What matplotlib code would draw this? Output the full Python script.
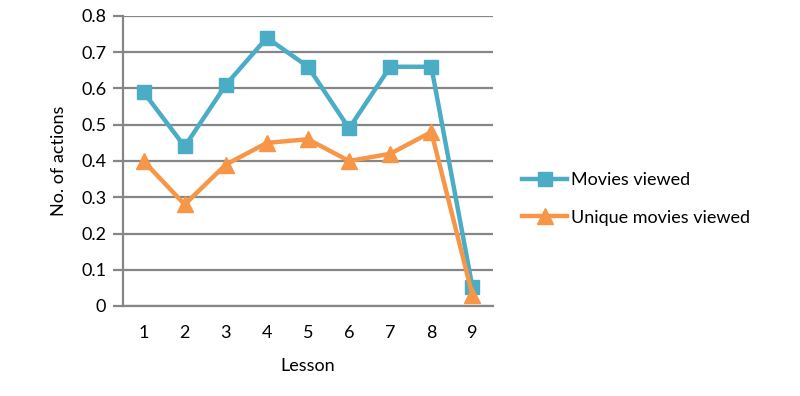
import matplotlib
matplotlib.use("Agg")
import matplotlib.pyplot as plt

lessons = [1, 2, 3, 4, 5, 6, 7, 8, 9]
movies_viewed = [0.59, 0.44, 0.61, 0.74, 0.66, 0.49, 0.66, 0.66, 0.052]
unique_movies_viewed = [0.40, 0.28, 0.39, 0.45, 0.46, 0.40, 0.42, 0.48, 0.03]
yticks = [0, 0.1, 0.2, 0.3, 0.4, 0.5, 0.6, 0.7, 0.8]

plt.rcParams['font.family'] = ['Lato', 'DejaVu Sans']

fig = plt.figure(figsize=(8, 3.96), dpi=100)
ax = fig.add_axes([123/800, 1-306/396, 370/800, 290/396])

blue = '#4BACC6'
orange = '#F79646'
grid = '#868686'
fs = 13

ax.plot(lessons, movies_viewed, color=blue, lw=3.2, marker='s', ms=10,
        label='Movies viewed', zorder=3, solid_joinstyle='round')
ax.plot(lessons, unique_movies_viewed, color=orange, lw=3.2, marker='^', ms=11,
        label='Unique movies viewed', zorder=3, solid_joinstyle='round')

ax.set_xlim(0.5, 9.5)
ax.set_ylim(0, 0.8)
ax.set_yticks(yticks)
ax.set_yticklabels(['0' if v == 0 else f'{v:.1f}' for v in yticks])
ax.set_xticks(lessons)
ax.yaxis.grid(True, color=grid, lw=1.6)
ax.set_axisbelow(True)
for s in ['top', 'right']:
    ax.spines[s].set_visible(False)
ax.spines['left'].set_color(grid)
ax.spines['left'].set_linewidth(1.6)
ax.spines['bottom'].set_color(grid)
ax.spines['bottom'].set_linewidth(1.6)
ax.tick_params(axis='y', length=7, width=1.6, color=grid, labelsize=fs, pad=5)
ax.tick_params(axis='x', length=0, labelsize=fs, pad=14)
ax.set_xlabel('Lesson', fontsize=fs, labelpad=12)
ax.set_ylabel('No. of actions', fontsize=fs, labelpad=10)

ax.legend(loc='center left', bbox_to_anchor=(1.035, 0.37), frameon=False,
          fontsize=fs, handlelength=2.5, labelspacing=1.2, handletextpad=0.2)

fig.savefig('out.png', dpi=100)
